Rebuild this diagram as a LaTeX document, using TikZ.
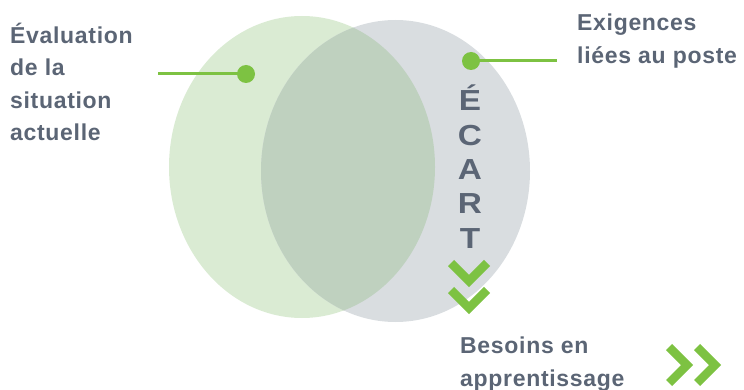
\documentclass[tikz,border=0pt]{standalone}
\usepackage{fontspec}
\setmainfont{Liberation Sans}
\definecolor{txt}{RGB}{91,101,117}
\definecolor{grn}{RGB}{125,194,66}
\definecolor{lgreen}{RGB}{218,235,211}
\definecolor{lgray}{RGB}{217,221,224}
\definecolor{overlap}{RGB}{191,209,191}
\begin{document}
\begin{tikzpicture}[x=1pt,y=-1pt,
  lbl/.style={inner sep=0pt, text=txt, align=left,
    font=\fontsize{23}{32.5}\selectfont\bfseries\addfontfeatures{LetterSpace=3}},
  ecart/.style={inner sep=0pt, text=txt, align=center,
    font=\fontsize{29}{34.3}\selectfont\bfseries\addfontfeatures{FakeStretch=1.15}},
  dotc/.style={circle, fill=grn, inner sep=0pt, minimum size=18pt},
  lead/.style={draw=grn, line width=3pt},
  chev/.style={draw=grn, line width=8.5pt, line cap=butt, line join=miter}]
\useasboundingbox (0,0) rectangle (744,390);
% ellipses
\fill[lgreen] (302,167) ellipse [x radius=133, y radius=151];
\fill[lgray] (395.5,171) ellipse [x radius=134.5, y radius=151];
\begin{scope}
  \clip (302,167) ellipse [x radius=133, y radius=151];
  \fill[overlap] (395.5,171) ellipse [x radius=134.5, y radius=151];
\end{scope}
% labels (base anchor = baseline of last line)
\node[lbl, anchor=base west] (eval) at (10,141) {Évaluation\\de la\\situation\\actuelle};
\node[lbl, anchor=base west] (exig) at (577,63.5) {Exigences\\liées au poste};
\node[lbl, anchor=base west] (beso) at (460,386) {Besoins en\\apprentissage};
\node[ecart, anchor=base] (ecartt) at (470,248) {É\\C\\A\\R\\T};
% leaders
\node[dotc] (d1) at (246,74) {};
\coordinate (l1) at (158,74);
\draw[lead] (l1) -- (d1.center);
\node[dotc] (d2) at (471,61) {};
\coordinate (l2) at (557,61);
\draw[lead] (d2.center) -- (l2);
% chevrons
\coordinate (c1a) at (451,263); \coordinate (c1b) at (469,281); \coordinate (c1c) at (487,263);
\draw[chev] (c1a) -- (c1b) -- (c1c);
\coordinate (c2a) at (451,290); \coordinate (c2b) at (469,308); \coordinate (c2c) at (487,290);
\draw[chev] (c2a) -- (c2b) -- (c2c);
\coordinate (c3a) at (669,347); \coordinate (c3b) at (687,365); \coordinate (c3c) at (669,383);
\draw[chev] (c3a) -- (c3b) -- (c3c);
\coordinate (c4a) at (697,347); \coordinate (c4b) at (715,365); \coordinate (c4c) at (697,383);
\draw[chev] (c4a) -- (c4b) -- (c4c);
\end{tikzpicture}
\end{document}
